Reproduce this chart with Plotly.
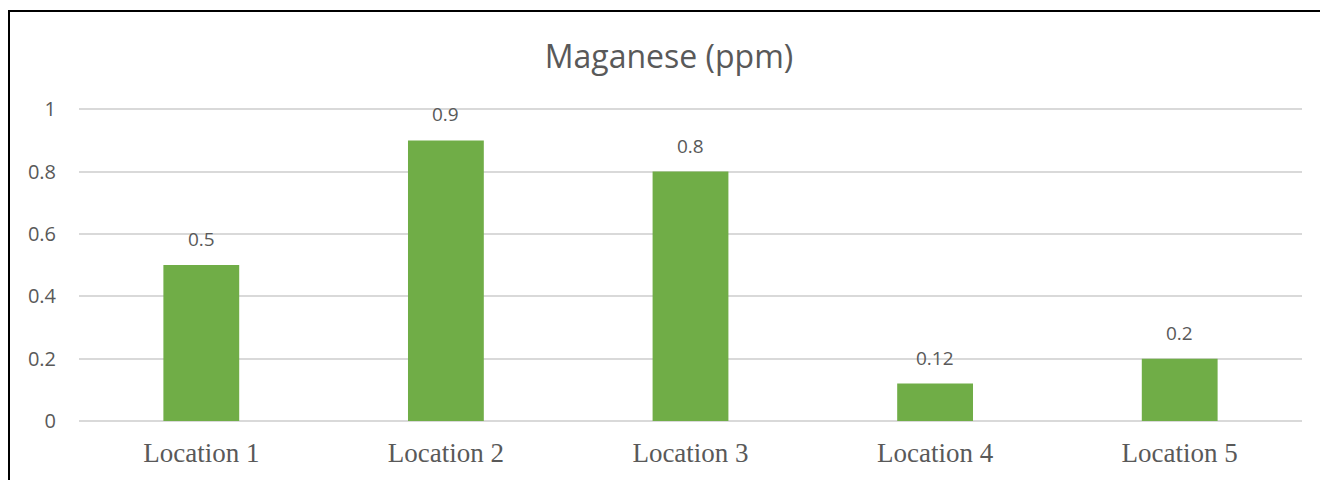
import plotly.graph_objects as go

# Manganese readings per sampling location
locations = ["Location 1", "Location 2", "Location 3", "Location 4", "Location 5"]
manganese_ppm = [0.5, 0.9, 0.8, 0.12, 0.2]
value_labels = ["0.5", "0.9", "0.8", "0.12", "0.2"]

W, H = 1320, 480
Y_TOP = 1.004  # a hair above 1 so the top gridline is drawn
ML, MR, MB = 79, 18, 57
PX_PER_UNIT = 314
MT = H - MB - round(PX_PER_UNIT * Y_TOP)
plot_w = W - ML - MR
plot_h = H - MT - MB

TEXT = "#595959"
GRID = "#D9D9D9"
BAR = "#70AD47"

fig = go.Figure()
fig.add_trace(go.Bar(
    x=locations,
    y=manganese_ppm,
    marker=dict(color=BAR, line=dict(width=0)),
    hoverinfo="x+y",
))

# value labels above each bar
for loc, val, lab in zip(locations, manganese_ppm, value_labels):
    fig.add_annotation(
        x=loc, y=val, text=lab, showarrow=False,
        xref="x", yref="y", yanchor="bottom", yshift=11,
        font=dict(family="Open Sans", size=19, color=TEXT),
    )

# outer frame (runs past the right and bottom edges of the page)
fig.add_shape(
    type="rect", xref="paper", yref="paper",
    x0=(9 - ML) / plot_w, x1=(W + 20 - ML) / plot_w,
    y0=-(MB + 20) / plot_h, y1=(H - MB - 10.5) / plot_h,
    line=dict(color="black", width=2), fillcolor="rgba(0,0,0,0)",
    layer="above",
)

fig.update_layout(
    width=W, height=H,
    margin=dict(l=ML, r=MR, t=MT, b=MB),
    paper_bgcolor="white", plot_bgcolor="white",
    bargap=0.69,
    showlegend=False,
    title=dict(
        text="Maganese (ppm)", x=669 / W, xref="container", xanchor="center",
        y=(H - 57) / H, yref="container", yanchor="middle",
        font=dict(family="Open Sans", size=32, color=TEXT),
    ),
    xaxis=dict(
        showgrid=False, zeroline=False, showline=False, ticks="",
        tickfont=dict(family="Liberation Serif", size=27, color=TEXT),
        ticklabelstandoff=13,
    ),
    yaxis=dict(
        range=[0, Y_TOP], tickvals=[0, 0.2, 0.4, 0.6, 0.8, 1],
        ticktext=["0", "0.2", "0.4", "0.6", "0.8", "1"],
        showgrid=True, gridcolor=GRID, gridwidth=1.5,
        zeroline=True, zerolinecolor=GRID, zerolinewidth=1.5,
        showline=False, ticks="",
        tickfont=dict(family="Open Sans", size=20, color=TEXT),
        ticklabelstandoff=22,
    ),
)

fig.write_html("out.html")
